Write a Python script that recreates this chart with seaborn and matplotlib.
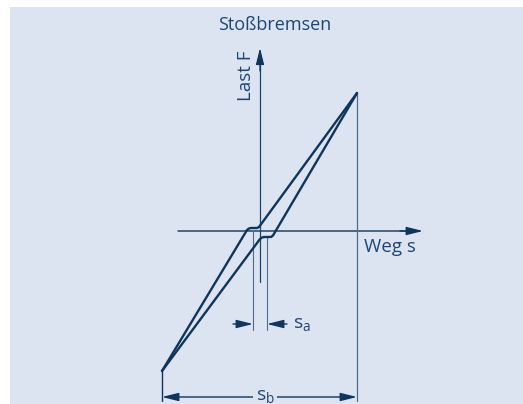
import numpy as np
import pandas as pd
import matplotlib
matplotlib.use('Agg')
import matplotlib.pyplot as plt
import seaborn as sns

# hysteresis of a snubber (Stossbremse), arbitrary units, origin at axis crossing
upper_s = [-9.8, -1.3, -1.1, -0.9, -0.3, -0.1, 9.7]
upper_f = [-14.0, 0.1, 0.25, 0.3, 0.3, 0.4, 13.8]
lower_s = [-9.8, 0.0, 0.2, 0.4, 1.1, 1.3, 9.7]
lower_f = [-14.0, -0.8, -0.65, -0.6, -0.6, -0.45, 13.8]

s_a = [-0.7, 0.7]        # play around zero load
s_b = [-9.8, 9.7]        # total stroke
f_min, f_max = -14.0, 13.8

title = 'Stoßbremsen'
ylabel = 'Last F'
xlabel = 'Weg s'

bg = '#dce3f1'
dark = '#10355c'
axis_col = '#1b4670'
thin = '#4d6d90'
txt = '#1c4675'

sns.set_style('white')
plt.rcParams['font.family'] = ['Open Sans', 'DejaVu Sans']
plt.rcParams['mathtext.fontset'] = 'custom'
plt.rcParams['mathtext.rm'] = 'Open Sans'

fig = plt.figure(figsize=(5.23, 4.04), dpi=100)
fig.patch.set_facecolor('white')
ax = fig.add_axes([10 / 523, 0, 513 / 523, 397 / 404])
ax.set_facecolor(bg)
ax.set_xlim(-25, 26.3)
ax.set_ylim(-17.3, 22.4)
ax.axis('off')
ax.add_patch(plt.Rectangle((0, 0), 1, 1, transform=ax.transAxes, color=bg, zorder=0))

curves = pd.concat([
    pd.DataFrame({'s': upper_s, 'F': upper_f, 'branch': 'up'}),
    pd.DataFrame({'s': lower_s, 'F': lower_f, 'branch': 'down'}),
])
sns.lineplot(data=curves, x='s', y='F', units='branch', estimator=None, sort=False,
             color=dark, lw=1.7, ax=ax, zorder=3)

# coordinate axes with arrows
head = '-|>,head_length=1.0,head_width=0.25'
ax.plot([0, 0], [-5.1, 17.0], color=axis_col, lw=0.9, zorder=2)
ax.annotate('', xy=(0, 18.3), xytext=(0, 16.0),
            arrowprops=dict(arrowstyle=head, color=dark, lw=0.9, shrinkA=0, shrinkB=0))
ax.plot([-8.2, 15.0], [0, 0], color=axis_col, lw=1.1, zorder=2)
ax.annotate('', xy=(16.3, 0), xytext=(14.0, 0),
            arrowprops=dict(arrowstyle=head, color=dark, lw=1.0, shrinkA=0, shrinkB=0))

# extension lines
ax.plot([s_a[0], s_a[0]], [0, -9.9], color=thin, lw=0.8, zorder=2)
ax.plot([s_a[1], s_a[1]], [lower_f[3], -9.9], color=thin, lw=0.8, zorder=2)
ax.plot([s_b[0], s_b[0]], [f_min, -17.0], color=dark, lw=1.0, zorder=2)
ax.plot([s_b[1], s_b[1]], [f_max, -17.0], color=thin, lw=0.9, zorder=2)

# s_a dimension
ax.annotate('', xy=(s_a[0], -9.3), xytext=(s_a[0] - 2.0, -9.3),
            arrowprops=dict(arrowstyle=head, color=dark, lw=1.0, shrinkA=0, shrinkB=0))
ax.annotate('', xy=(s_a[1], -9.3), xytext=(s_a[1] + 2.0, -9.3),
            arrowprops=dict(arrowstyle=head, color=dark, lw=1.0, shrinkA=0, shrinkB=0))
ax.text(3.3, -9.3, r'$\mathregular{s_a}$', color=txt, fontsize=14, ha='left', va='center')

# s_b dimension
ax.annotate('', xy=(s_b[1], -16.6), xytext=(s_b[0], -16.6),
            arrowprops=dict(arrowstyle='<|-|>,head_length=1.0,head_width=0.25', color=dark,
                            lw=1.0, shrinkA=0, shrinkB=0))
ax.text(0.5, -16.5, r'$\mathregular{s_b}$', color=txt, fontsize=14, ha='center', va='center',
        bbox=dict(facecolor=bg, edgecolor='none', pad=2))

ax.text(1.5, 20.6, title, color=txt, fontsize=13, ha='center', va='center')
ax.text(-1.4, 15.5, ylabel, color=txt, fontsize=13.5, ha='center', va='center', rotation=90)
ax.text(10.4, -1.6, xlabel, color=txt, fontsize=13.5, ha='left', va='center')

fig.savefig('out.png', dpi=100, facecolor='white')
